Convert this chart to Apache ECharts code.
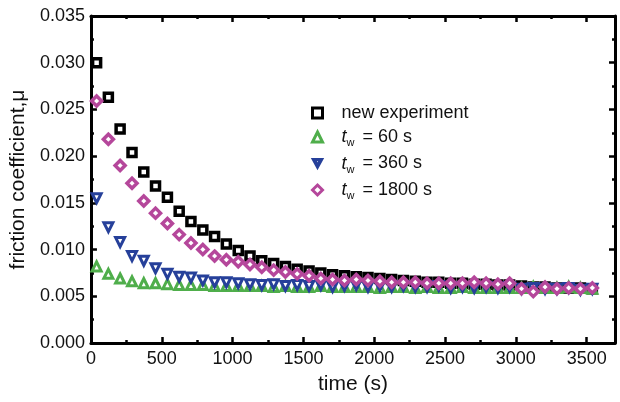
<!DOCTYPE html>
<html>
<head>
<meta charset="utf-8">
<script src="https://cdn.jsdelivr.net/npm/echarts@6/dist/echarts.min.js"></script>
<style>
  html, body { margin: 0; padding: 0; background: #fff; }
  #chart { width: 620px; height: 402px; }
</style>
</head>
<body>
<div id="chart"></div>
<script>
// time (s) of each measurement, shared by all runs
const time = [40, 123, 206, 290, 373, 456, 540, 623, 706, 790, 873, 956, 1040, 1123, 1206,
  1290, 1373, 1456, 1540, 1623, 1706, 1790, 1873, 1956, 2040, 2123, 2206, 2290, 2373, 2456,
  2540, 2623, 2706, 2790, 2873, 2956, 3040, 3123, 3206, 3290, 3373, 3456, 3540]

const newExperiment = [0.0300, 0.0263, 0.0229, 0.0204, 0.0183, 0.0168, 0.0156, 0.0141, 0.0130,
  0.0121, 0.0114, 0.0106, 0.0099, 0.0093, 0.0088, 0.0085, 0.0082, 0.0079, 0.0077, 0.0075,
  0.0073, 0.0072, 0.0071, 0.0070, 0.0069, 0.0068, 0.0067, 0.0066, 0.0065, 0.0065, 0.0064,
  0.0064, 0.0063, 0.0063, 0.0062, 0.0062, 0.0061, 0.0060, 0.0060, 0.0059, 0.0059, 0.0059, 0.0058]

const tw60 = [0.0082, 0.0074, 0.0069, 0.0066, 0.0064, 0.0064, 0.0063, 0.0062, 0.0062, 0.0062,
  0.0061, 0.0061, 0.0061, 0.0061, 0.0061, 0.0060, 0.0061, 0.0060, 0.0060, 0.0061, 0.0060,
  0.0060, 0.0060, 0.0060, 0.0059, 0.0060, 0.0060, 0.0059, 0.0060, 0.0059, 0.0059, 0.0060,
  0.0059, 0.0059, 0.0059, 0.0059, 0.0059, 0.0060, 0.0059, 0.0059, 0.0060, 0.0059, 0.0058]

const tw360 = [0.0155, 0.0124, 0.0108, 0.0093, 0.0088, 0.0080, 0.0074, 0.0071, 0.0070, 0.0067,
  0.0065, 0.0065, 0.0064, 0.0063, 0.0062, 0.0063, 0.0061, 0.0062, 0.0061, 0.0062, 0.0060,
  0.0061, 0.0062, 0.0060, 0.0061, 0.0060, 0.0061, 0.0060, 0.0060, 0.0061, 0.0059, 0.0060,
  0.0059, 0.0060, 0.0059, 0.0060, 0.0058, 0.0059, 0.0058, 0.0058, 0.0059, 0.0057, 0.0058]

const tw1800 = [0.0259, 0.0218, 0.0190, 0.0171, 0.0152, 0.0139, 0.0128, 0.0116, 0.0107, 0.0100,
  0.0093, 0.0089, 0.0087, 0.0084, 0.0081, 0.0078, 0.0076, 0.0074, 0.0072, 0.0069, 0.0068,
  0.0067, 0.0068, 0.0067, 0.0066, 0.0065, 0.0065, 0.0065, 0.0064, 0.0064, 0.0064, 0.0064,
  0.0065, 0.0064, 0.0063, 0.0064, 0.0058, 0.0055, 0.0060, 0.0058, 0.0059, 0.0058, 0.0059]

const seriesNames = ['new experiment', '{i|t}{s|w} = 60 s', '{i|t}{s|w} = 360 s', '{i|t}{s|w} = 1800 s']

const chart = echarts.init(document.getElementById('chart'))
const font = 'Liberation Sans, Arial, sans-serif'

const pairs = vals => vals.map((v, i) => [time[i], v])

function scatter(name, vals, symbol, color, size, bw, rotate) {
  return {
    name, type: 'scatter', data: pairs(vals),
    symbol, symbolSize: size, symbolRotate: rotate || 0,
    itemStyle: { color: '#fff', borderColor: color, borderWidth: bw, opacity: 1 },
    emphasis: { disabled: true }
  }
}

// axis look shared by all four sides (box frame with inward ticks)
const frame = {
  axisLine: { show: true, onZero: false, lineStyle: { color: '#000', width: 3 } },
  axisTick: { show: true, inside: true, length: 6, lineStyle: { color: '#000', width: 2.5 } },
  minorTick: { show: true, splitNumber: 2, length: 3, lineStyle: { color: '#000', width: 2.5 } },
  splitLine: { show: false }
}

chart.setOption({
  backgroundColor: '#fff',
  animation: false,
  textStyle: { fontFamily: font },
  grid: { left: 88, right: 5, top: 16, bottom: 59 },
  legend: {
    orient: 'vertical', left: 306, top: 99, itemGap: 6,
    itemWidth: 10, itemHeight: 10,
    itemStyle: { borderWidth: 3 },
    data: [
      { name: seriesNames[0] },
      { name: seriesNames[1] },
      // down-pointing hollow triangle (outer contour + reversed inner hole)
      { name: seriesNames[2], icon: 'path://M0,0 L12,0 L6,11 Z M3.2,1.6 L6,6.8 L8.8,1.6 Z',
        itemStyle: { color: '#26409a', borderColor: '#26409a', borderWidth: 2 } },
      { name: seriesNames[3] }
    ],
    textStyle: {
      fontSize: 18, color: '#111', fontFamily: font, padding: [0, 0, 0, 14],
      rich: {
        i: { fontSize: 18, fontStyle: 'italic', fontFamily: font, color: '#111' },
        s: { fontSize: 11, fontFamily: font, color: '#111', padding: [12, 3, 0, 0] }
      }
    }
  },
  xAxis: [
    Object.assign({
      type: 'value', min: 0, max: 3700, interval: 500,
      name: 'time (s)', nameLocation: 'middle', nameGap: 31,
      nameTextStyle: { fontSize: 21, color: '#111', fontFamily: font },
      axisLabel: { fontSize: 18, color: '#111', margin: 7, showMaxLabel: false,
        formatter: v => (v % 500 === 0 ? String(v) : '') }
    }, frame),
    Object.assign({
      type: 'value', min: 0, max: 3700, interval: 500, position: 'top',
      axisLabel: { show: false }
    }, frame)
  ],
  yAxis: [
    Object.assign({
      type: 'value', min: 0, max: 0.035, interval: 0.005,
      name: 'friction coefficient,μ', nameLocation: 'middle', nameGap: 61,
      nameTextStyle: { fontSize: 21, color: '#111', fontFamily: font },
      axisLabel: { fontSize: 18, color: '#111', margin: 6, formatter: v => v.toFixed(3) }
    }, frame),
    Object.assign({
      type: 'value', min: 0, max: 0.035, interval: 0.005, position: 'right',
      axisLabel: { show: false }
    }, frame)
  ],
  series: [
    scatter(seriesNames[0], newExperiment, 'rect', '#000000', 8, 3.5),
    scatter(seriesNames[1], tw60, 'triangle', '#4fae4b', 9, 3),
    scatter(seriesNames[2], tw360, 'triangle', '#26409a', 9, 3, 180),
    scatter(seriesNames[3], tw1800, 'diamond', '#b5479b', 10, 3.5)
  ]
})
</script>
</body>
</html>
